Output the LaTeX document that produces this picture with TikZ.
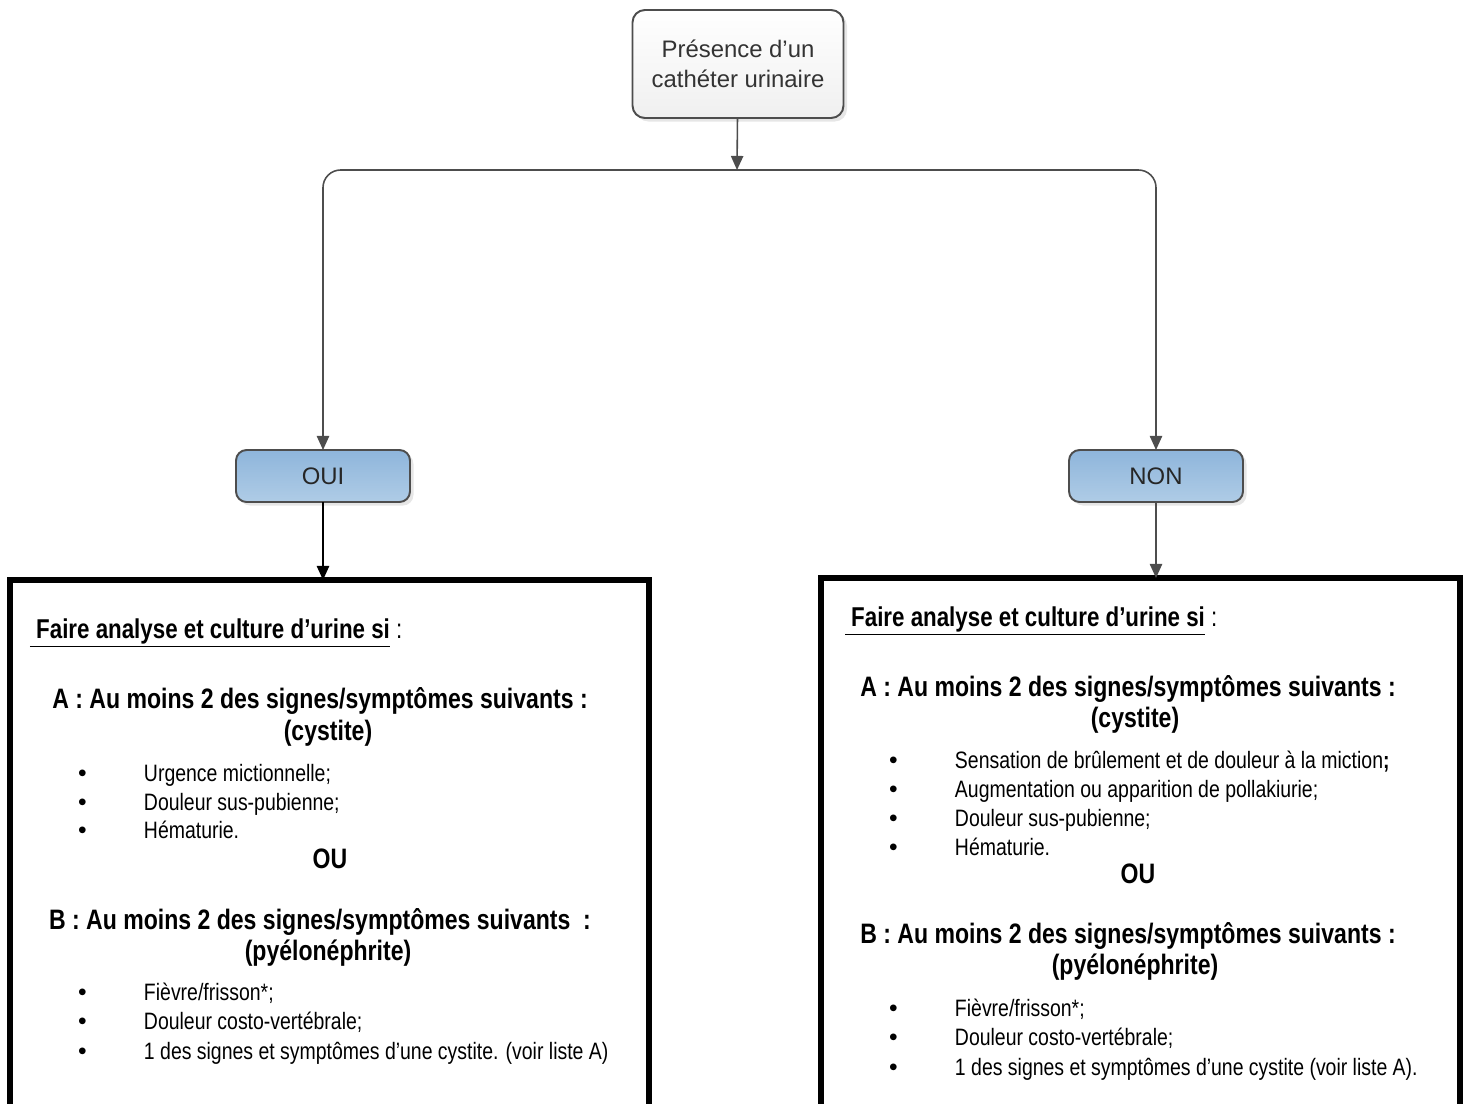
\documentclass[tikz,border=0pt]{standalone}
\usepackage{fontspec}
\setmainfont{Liberation Sans}
\newfontfamily\narrow[FakeStretch=0.82]{Liberation Sans}
\usetikzlibrary{arrows.meta,shadows,positioning}
\definecolor{trait}{HTML}{4D4D4D}
\definecolor{bleuhaut}{HTML}{8EB5DB}
\definecolor{bleubas}{HTML}{AFCCE6}
\newcommand{\puce}{\makebox[1.32cm][l]{\normalfont\fontsize{14}{14}\selectfont\textbullet}}

\begin{document}
\begin{tikzpicture}[x=0.02cm,y=-0.02cm]
  \tikzstyle{every node}+=[inner sep=0pt, outer sep=0pt]
  \tikzstyle{question}=[draw=trait, line width=1.1pt, rounded corners=7pt,
    top color=white, bottom color=black!6, text=black!80, align=center,
    drop shadow={opacity=0.2, shadow xshift=2pt, shadow yshift=-2pt},
    font=\fontsize{13.6}{17}\selectfont]
  \tikzstyle{reponse}=[draw=trait, line width=1.1pt, rounded corners=6pt,
    top color=bleuhaut, bottom color=bleubas, text=black!85,
    drop shadow={opacity=0.2, shadow xshift=2pt, shadow yshift=-2pt},
    minimum width=3.48cm, minimum height=1.04cm,
    font=\fontsize{13.6}{17}\selectfont]
  \tikzstyle{cadre}=[draw=black, line width=3.4pt, minimum width=12.79cm,
    minimum height=12cm, anchor=north west]
  \tikzstyle{fleche}=[draw=trait, line width=0.9pt,
    -{Triangle[width=7pt,length=8pt]}]
  \tikzstyle{titre}=[anchor=base west, font=\narrow\fontsize{15.5}{18}\selectfont]
  \tikzstyle{critere}=[anchor=base, font=\narrow\bfseries\fontsize{16}{19}\selectfont]
  \tikzstyle{item}=[anchor=base west, font=\narrow\fontsize{13.5}{16}\selectfont]
  \useasboundingbox (0,0) rectangle (1468,1103);

  % question
  \node[question, minimum width=4.22cm, minimum height=2.16cm] (cath) at (738,64)
    {Présence d’un\\cathéter urinaire};
  \coordinate (split) at (737,170);
  \node[reponse] (oui) at (323,476) {OUI};
  \node[reponse] (non) at (1156,476) {NON};

  % cadres
  \node[cadre] (gauche) at (10,580) {};
  \node[cadre] (droite) at (821,578) {};

  \draw[fleche] (cath) -- (split);
  \draw[fleche, rounded corners=10pt] (split) -| (oui);
  \draw[fleche, rounded corners=10pt] (split) -| (non);
  \draw[fleche, draw=black] (oui) -- (oui |- gauche.north);
  \draw[fleche] (non) -- (non |- droite.north);

  % cadre OUI
  \node[titre] (gtitre) at (30,638)
    {\underline{\bfseries\ Faire analyse et culture d’urine si} :};
  \node[critere] (gA) at (320,708) {A : Au moins 2 des signes/symptômes suivants :};
  \node[critere] (gAc) at (328,740) {(cystite)};
  \foreach \y/\t [count=\i] in {781/{Urgence mictionnelle;},810/{Douleur sus-pubienne;},838/{Hématurie.}}
    \node[item] (ga\i) at (78,\y) {\puce\t};
  \node[critere] (gou) at (330,868) {OU};
  \node[critere] (gB) at (320,929) {B : Au moins 2 des signes/symptômes suivants~ :};
  \node[critere] (gBp) at (328,960) {(pyélonéphrite)};
  \foreach \y/\t [count=\i] in {1000/{Fièvre/frisson*;},1029/{Douleur costo-vertébrale;},1059/{1 des signes et symptômes d’une cystite. (voir liste A)}}
    \node[item] (gb\i) at (78,\y) {\puce\t};

  % cadre NON
  \node[titre] (dtitre) at (845,626)
    {\underline{\bfseries\ Faire analyse et culture d’urine si} :};
  \node[critere] (dA) at (1128,696) {A : Au moins 2 des signes/symptômes suivants :};
  \node[critere] (dAc) at (1135,727) {(cystite)};
  \foreach \y/\t [count=\i] in {768/{Sensation de brûlement et de douleur à la miction{\bfseries ;}},797/{Augmentation ou apparition de pollakiurie;},826/{Douleur sus-pubienne;},855/{Hématurie.}}
    \node[item] (da\i) at (889,\y) {\puce\t};
  \node[critere] (dou) at (1138,883) {OU};
  \node[critere] (dB) at (1128,943) {B : Au moins 2 des signes/symptômes suivants :};
  \node[critere] (dBp) at (1135,974) {(pyélonéphrite)};
  \foreach \y/\t [count=\i] in {1016/{Fièvre/frisson*;},1045/{Douleur costo-vertébrale;},1075/{1 des signes et symptômes d’une cystite (voir liste A).}}
    \node[item] (db\i) at (889,\y) {\puce\t};
\end{tikzpicture}
\end{document}
